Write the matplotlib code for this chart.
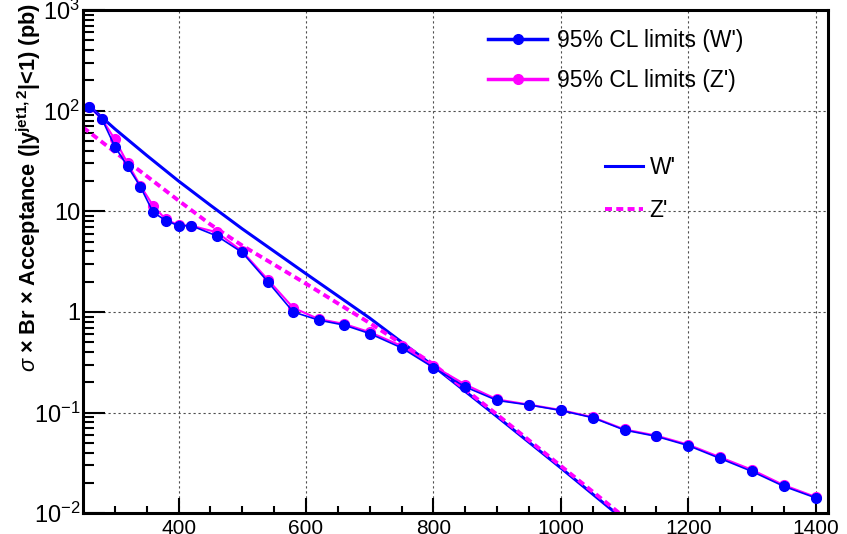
import numpy as np
import matplotlib
matplotlib.use("Agg")
import matplotlib.pyplot as plt
from matplotlib.lines import Line2D
from matplotlib.ticker import FixedLocator, FixedFormatter, LogLocator, NullFormatter

plt.rcParams['font.family'] = ['Liberation Sans', 'DejaVu Sans']
plt.rcParams['mathtext.fontset'] = 'custom'
plt.rcParams['mathtext.rm'] = 'Liberation Sans'
plt.rcParams['mathtext.it'] = 'Liberation Sans:italic'
plt.rcParams['mathtext.bf'] = 'Liberation Sans:bold'

# masses (GeV) where the limits were computed
mass = [260, 280, 300, 320, 340, 360, 380, 400, 420, 460, 500, 540, 580, 620, 660,
        700, 750, 800, 850, 900, 950, 1000, 1050, 1100, 1150, 1200, 1250, 1300, 1350, 1400]
limit_w = [110, 82, 44, 28, 17.6, 9.8, 8.1, 7.2, 7.2, 5.7, 3.9, 2.0, 1.0, 0.83, 0.74,
           0.61, 0.44, 0.28, 0.18, 0.132, 0.119, 0.105, 0.089, 0.067, 0.058, 0.047,
           0.035, 0.026, 0.0185, 0.0142]
limit_z = [110, 82, 52, 30, 18, 11.4, 8.3, 7.3, 7.2, 6.2, 4.0, 2.1, 1.1, 0.85, 0.76,
           0.63, 0.46, 0.29, 0.19, 0.135, 0.12, 0.106, 0.09, 0.068, 0.059, 0.048,
           0.036, 0.027, 0.019, 0.0145]

# theory curves
thw_mass = [260, 300, 350, 400, 450, 500, 600, 700, 800, 900, 1000, 1100]
th_w = [111, 66, 36, 20, 11.5, 6.7, 2.4, 0.87, 0.29, 0.0912, 0.0282, 0.0085]
thz_mass = [250, 300, 350, 400, 450, 500, 600, 700, 800, 900, 1000, 1100]
th_z = [68.4, 38.9, 22.4, 12.8, 7.41, 4.57, 1.91, 0.776, 0.302, 0.0955, 0.0295, 0.0091]

fig = plt.figure(figsize=(8.47, 5.34), dpi=100)
ax = fig.add_axes([0.098, 0.039, 0.88, 0.942])

lth_w, = ax.plot(thw_mass, th_w, color='#0000ff', lw=2.2, label="W'")
lth_z, = ax.plot(thz_mass, th_z, color='#ff00ff', lw=2.8, ls=(0, (1.8, 1.1)), label="Z'")
ax.plot(mass, limit_z, color='#ff00ff', lw=1.5, marker='o', ms=7)
ax.plot(mass, limit_w, color='#0000ff', lw=1.2, marker='o', ms=7)

ax.set_yscale('log')
ax.set_xlim(250, 1420)
ax.set_ylim(1e-2, 1e3)

ax.xaxis.set_major_locator(FixedLocator([400, 600, 800, 1000, 1200, 1400]))
ax.xaxis.set_minor_locator(FixedLocator(np.arange(300, 1420, 50)))
ax.yaxis.set_major_locator(FixedLocator([1e-2, 1e-1, 1, 10, 100, 1000]))
ax.yaxis.set_major_formatter(FixedFormatter(['$10^{-2}$', '$10^{-1}$', '1', '10',
                                             '$10^{2}$', '$10^{3}$']))
ax.yaxis.set_minor_locator(LogLocator(base=10, subs=np.arange(2, 10)))
ax.yaxis.set_minor_formatter(NullFormatter())

ax.tick_params(axis='both', which='both', direction='in', width=1.5,
               top=False, right=False)
ax.tick_params(axis='y', which='major', length=16, pad=2, labelsize=17)
ax.tick_params(axis='y', which='minor', length=8)
ax.tick_params(axis='x', which='major', length=11, pad=4, labelsize=15)
ax.tick_params(axis='x', which='minor', length=5)

ax.grid(True, which='major', color='0.3', lw=0.8, ls=(0, (2, 2.5)))
for s in ax.spines.values():
    s.set_linewidth(2.2)

# y axis title, pushed to the top like the original
fig.text(0.034, 0.994, r"$\sigma$ × Br × Acceptance (|$\mathbf{y}^{\mathbf{jet1,2}}$|<1) (pb)",
         fontsize=15.7, fontweight='bold', rotation=90, ha='center', va='top')

h_w = Line2D([], [], color='#0000ff', lw=2.5, marker='o', ms=7)
h_z = Line2D([], [], color='#ff00ff', lw=2.5, marker='o', ms=7)
leg1 = ax.legend(handles=[h_w, h_z], labels=["95% CL limits (W')", "95% CL limits (Z')"],
                 loc='upper left', bbox_to_anchor=(0.544, 0.962),
                 frameon=False, fontsize=16.5, handlelength=2.55, handletextpad=0.43,
                 labelspacing=0.75, borderpad=0, borderaxespad=0)
ax.add_artist(leg1)
ax.legend(handles=[lth_w, lth_z], loc='upper left', bbox_to_anchor=(0.70, 0.71),
          frameon=False, fontsize=16.5, handlelength=1.65, handletextpad=0.3,
          labelspacing=0.87, borderpad=0, borderaxespad=0)

plt.savefig('out.png', dpi=100)
